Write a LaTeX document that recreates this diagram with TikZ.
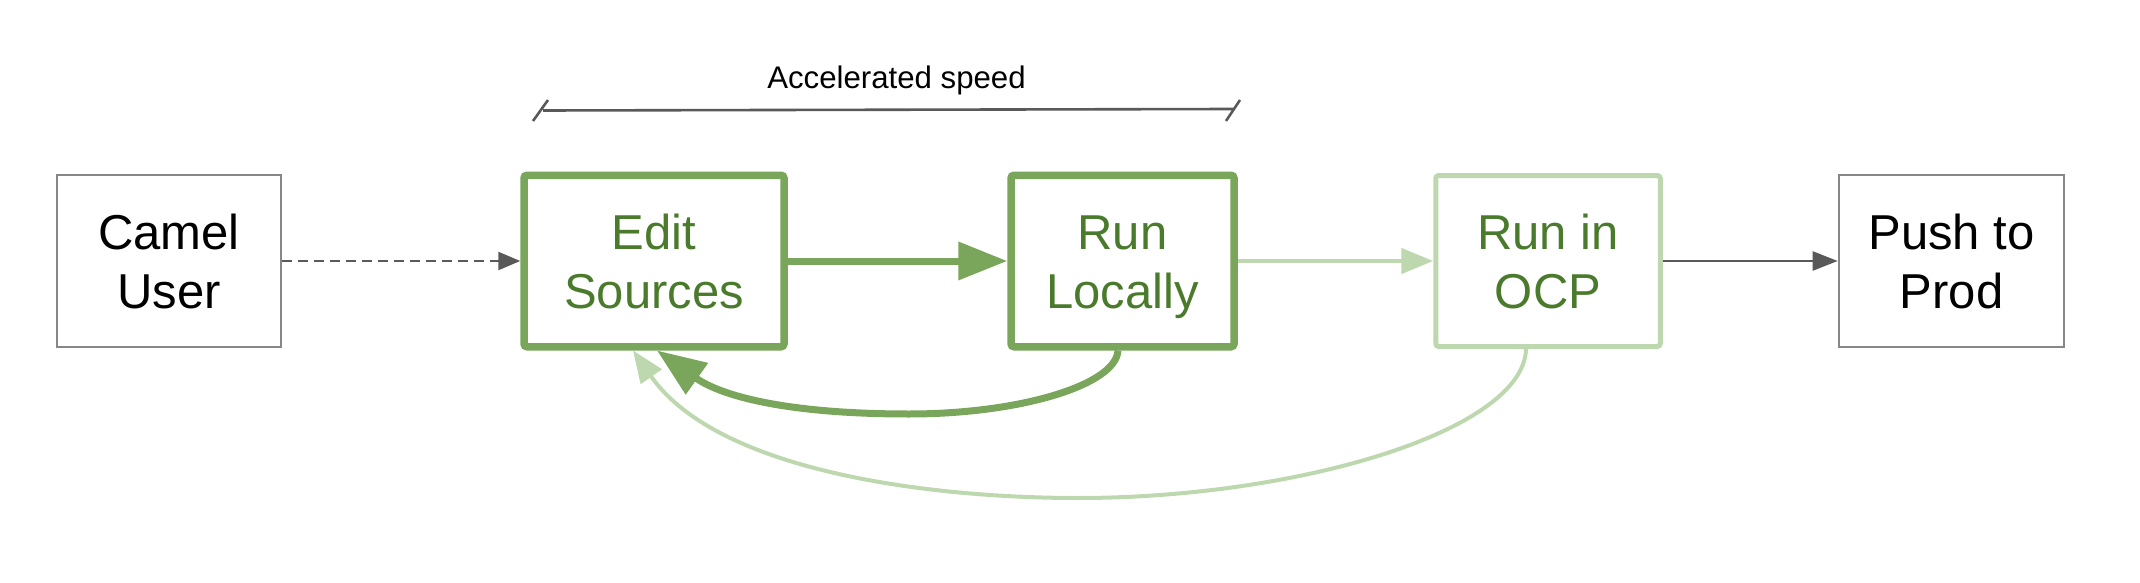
\documentclass[tikz,border=0pt]{standalone}
\usepackage{fontspec}
\setmainfont{Liberation Sans}
\usetikzlibrary{arrows.meta}
\definecolor{gborder}{HTML}{79A65B}
\definecolor{glight}{HTML}{BDD7AE}
\definecolor{gtext}{HTML}{4A7A2C}
\definecolor{grayborder}{HTML}{878787}
\definecolor{darkgray}{HTML}{595959}
\begin{document}
\begin{tikzpicture}[x=0.5pt,y=0.5pt,
  boxbase/.style={rectangle, inner sep=0pt, align=center,
    font=\fontsize{24.5}{29.5}\selectfont, text height=47pt, text depth=0pt},
  graybox/.style={boxbase, draw=grayborder, line width=1.3pt, text=black},
  greenbox/.style={boxbase, draw=gborder, line width=3.75pt, rounded corners=1.5pt, text=gtext},
  lightbox/.style={boxbase, draw=glight, line width=2.5pt, rounded corners=1.5pt, text=gtext},
  dasharrow/.style={draw=darkgray, line width=1.25pt, dash pattern=on 5pt off 3pt,
    -{Triangle[length=11pt,width=9pt]}},
  darkarrow/.style={draw=gborder, line width=3.5pt, -{Triangle[length=24.5pt,width=18.5pt]}},
  lightarrow/.style={draw=glight, line width=2.3pt, -{Triangle[length=16pt,width=12.5pt]}},
  grayarrow/.style={draw=darkgray, line width=1.25pt, -{Triangle[length=12.5pt,width=9.5pt]}},
  bracketline/.style={draw=darkgray, line width=1.3pt},
]
\useasboundingbox (0,0) rectangle (2140,-583);

\node[graybox, minimum width=112pt, minimum height=86pt] (cu) at (169,-261) {Camel\\User};
\node[greenbox, minimum width=130pt, minimum height=85.75pt] (es) at (654,-261) {Edit\\Sources};
\node[greenbox, minimum width=111.5pt, minimum height=85.75pt] (rl) at (1122.5,-261) {Run\\Locally};
\node[lightbox, minimum width=112.25pt, minimum height=85.5pt] (ocp) at (1548,-261) {Run in\\OCP};
\node[graybox, minimum width=112.5pt, minimum height=86pt] (pp) at (1951.5,-261) {Push to\\Prod};

\draw[dasharrow] (cu.east) -- (es.west);
\draw[darkarrow] (es.east) -- (rl.west);
\draw[lightarrow] (rl.east) -- (ocp.west);
\draw[grayarrow] (ocp.east) -- (pp.west);

\draw[darkarrow] ([xshift=-2.25pt]rl.south) .. controls (1116,-385) and (1020,-414) .. (909,-414)
  .. controls (790,-414) and (722.5,-396.9) .. ([xshift=1.5pt]es.south);
\draw[lightarrow, line width=2pt] ([xshift=-11pt]ocp.south) .. controls (1524,-430) and (1300,-498) .. (1078,-498)
  .. controls (930,-498) and (717.75,-471.75) .. ([xshift=-10.5pt]es.south);

\coordinate (bl) at (543,-110.5);
\coordinate (br) at (1233,-109);
\draw[bracketline] (bl) -- (br);
\draw[bracketline] ([shift={(-10,-10.5)}]bl) -- ([shift={(5,10.5)}]bl);
\draw[bracketline] ([shift={(-7,-12)}]br) -- ([shift={(7,9)}]br);
\node[anchor=base, font=\fontsize{15.6}{18}\selectfont, inner sep=0pt] (acc) at (896.5,-89) {Accelerated speed};
\end{tikzpicture}
\end{document}
